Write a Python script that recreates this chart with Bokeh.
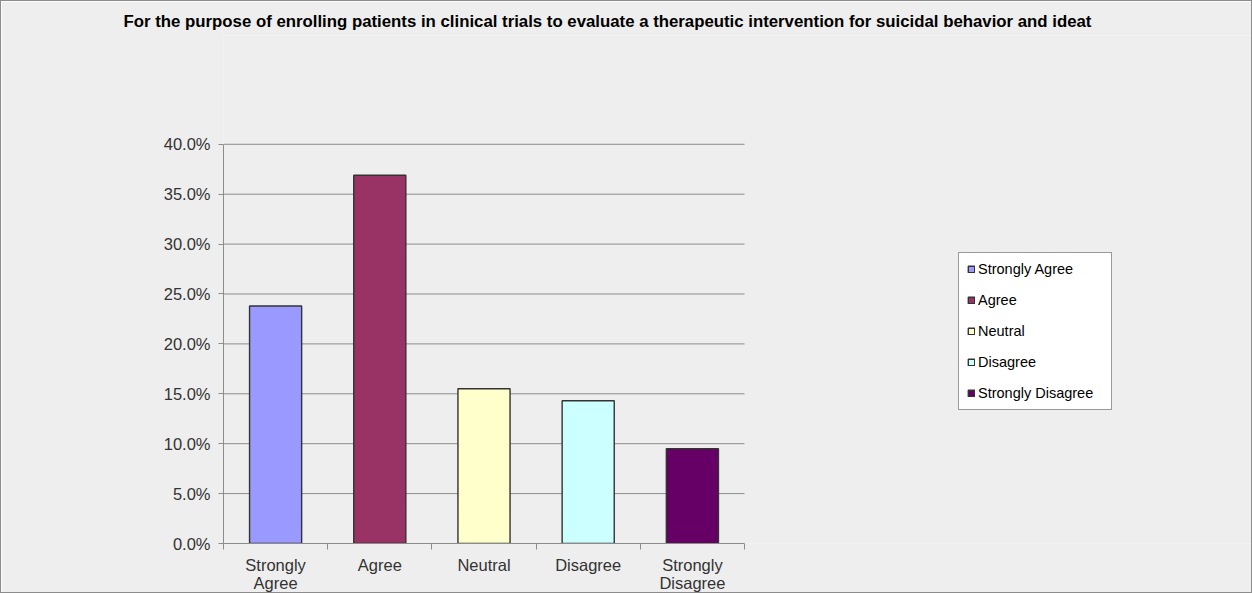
from bokeh.plotting import figure
from bokeh.models import (ColumnDataSource, Range1d, LinearAxis, FixedTicker, NumeralTickFormatter,
                          Title, SingleIntervalTicker, Grid)
from bokeh.embed import file_html
from bokeh.resources import INLINE

title_text = "For the purpose of enrolling patients in clinical trials to evaluate a therapeutic intervention for suicidal behavior and ideat"
categories = ["Strongly Agree", "Agree", "Neutral", "Disagree", "Strongly Disagree"]
axis_labels = ["Strongly\nAgree", "Agree", "Neutral", "Disagree", "Strongly\nDisagree"]
values = [0.238, 0.369, 0.155, 0.143, 0.095]
colors = ["#9999FF", "#993366", "#FFFFCC", "#CCFFFF", "#660066"]
y_max = 0.40
y_step = 0.05

# layout constants (pixels)
W, H = 1252, 593
LEFT, RIGHT, TOP, BOTTOM = 222, 2, 34, 50
CHART_W, CHART_H = 521, 400          # width / height of the bar chart area

FONT = "Liberation Sans"
BG = "#EEEEEE"
GRAY = "#8c8c8c"
n = len(categories)
centers = [i + 0.5 for i in range(n)]
frame_w = W - LEFT - RIGHT
frame_h = H - TOP - BOTTOM
x_end = n * frame_w / CHART_W
y_end = y_max * frame_h / CHART_H

src = ColumnDataSource(dict(x=centers, top=values, label=categories, color=colors))
grid_vals = [round(y_step * k, 4) for k in range(1, int(round(y_max / y_step)) + 1)]
gsrc = ColumnDataSource(dict(y=grid_vals, x0=[0] * len(grid_vals), x1=[n] * len(grid_vals)))

p = figure(width=W, height=H, output_backend="svg", toolbar_location=None,
           x_range=Range1d(0, x_end), y_range=Range1d(0, y_end),
           x_axis_location=None, y_axis_location=None,
           min_border_left=LEFT, min_border_right=RIGHT, min_border_top=TOP, min_border_bottom=BOTTOM)
p.background_fill_color = BG
p.border_fill_color = BG
p.outline_line_color = None
p.styles = {"border": "1px solid #8c8c8c", "box-sizing": "border-box"}
p.center = [r for r in p.center if not isinstance(r, Grid)]

# y axis
yax = LinearAxis(ticker=SingleIntervalTicker(interval=y_step, num_minor_ticks=0),
                 formatter=NumeralTickFormatter(format="0.0%"), bounds=(0, y_max))
yax.axis_line_color = GRAY
yax.major_tick_line_color = GRAY
yax.major_tick_in = 0
yax.major_tick_out = 5
yax.minor_tick_line_color = None
yax.major_label_text_font = FONT
yax.major_label_text_font_size = "16.5px"
yax.major_label_text_color = "#333333"
yax.major_label_standoff = 8
p.add_layout(yax, "left")

# x boundary ticks (no labels)
bounds = list(range(n + 1))
bax = LinearAxis(ticker=FixedTicker(ticks=bounds), bounds=(0, n))
bax.major_label_overrides = {b: "" for b in bounds}
bax.major_label_text_font_size = "1px"
bax.major_label_standoff = 0
bax.axis_line_color = GRAY
bax.major_tick_line_color = GRAY
bax.major_tick_in = 0
bax.major_tick_out = 6
bax.minor_tick_line_color = None
p.add_layout(bax, "below")

# category labels at bar centers
cax = LinearAxis(ticker=FixedTicker(ticks=centers))
cax.major_label_overrides = {c: lab for c, lab in zip(centers, axis_labels)}
cax.axis_line_color = None
cax.major_tick_line_color = None
cax.minor_tick_line_color = None
cax.major_label_text_font = FONT
cax.major_label_text_font_size = "16.5px"
cax.major_label_text_color = "#333333"
cax.major_label_standoff = 0
cax.major_label_text_line_height = 1.0
p.add_layout(cax, "below")

# horizontal gridlines limited to the chart area
p.segment(x0="x0", x1="x1", y0="y", y1="y", source=gsrc, line_color=GRAY, line_width=1)

r = p.vbar(x="x", top="top", width=0.5, source=src, fill_color="color",
           line_color="#333333", line_width=1.4, legend_field="label")

leg = p.legend[0]
leg.location = (735, 133)
leg.background_fill_color = "white"
leg.background_fill_alpha = 1
leg.border_line_color = "#333333"
leg.border_line_width = 1
leg.label_text_font = FONT
leg.label_text_font_size = "14.5px"
leg.label_text_color = "#000000"
leg.glyph_width = 8
leg.glyph_height = 8
leg.label_standoff = 3
leg.label_height = 8
leg.label_width = 125
leg.spacing = 15
leg.padding = 8
leg.margin = 0

p.title = Title(text=title_text, align="left", offset=-100, standoff=10, text_font=FONT,
                text_font_size="16.8px", text_font_style="bold", text_color="#000000")

open("out.html", "w").write(file_html(p, INLINE))
